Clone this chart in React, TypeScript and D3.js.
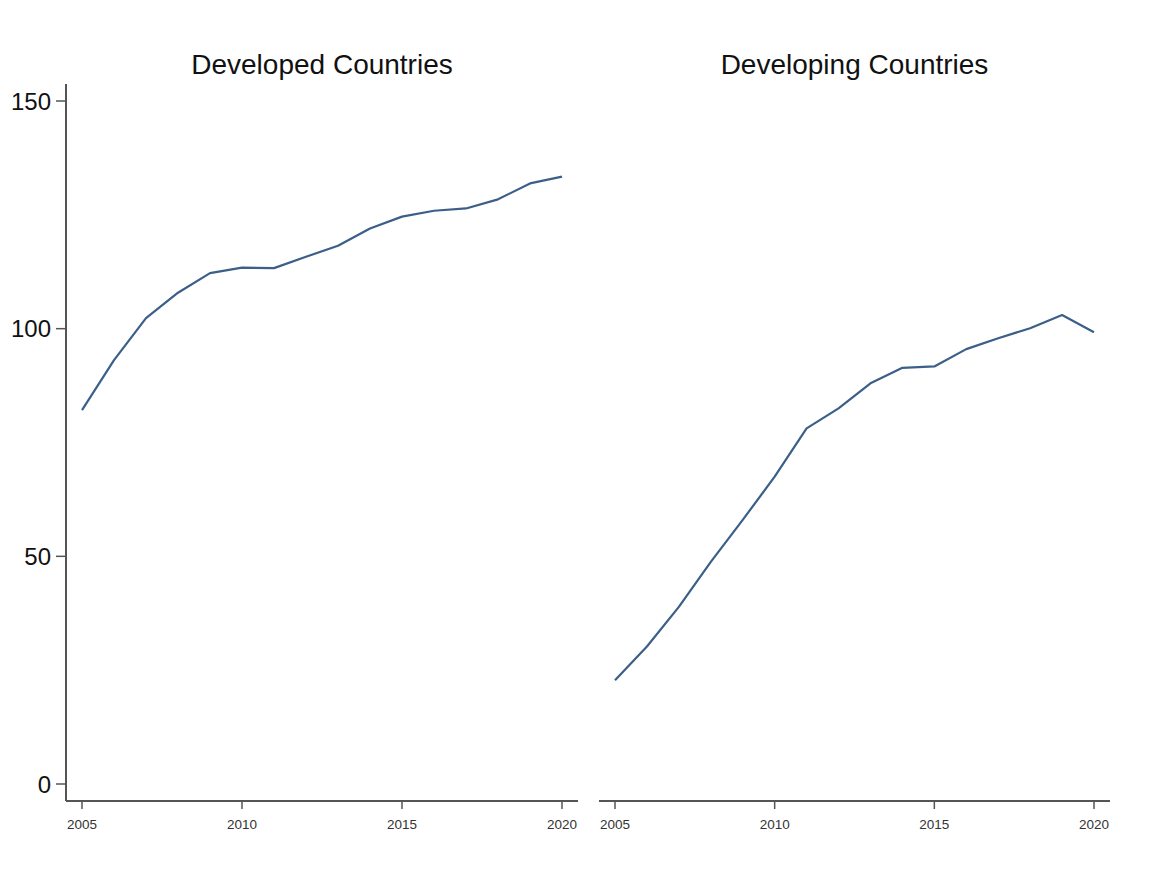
import React from "react";
import * as d3 from "d3";

const years = [2005,2006,2007,2008,2009,2010,2011,2012,2013,2014,2015,2016,2017,2018,2019,2020];
const developed = [82.1,93.1,102.3,107.9,112.2,113.4,113.3,115.8,118.2,122.0,124.6,125.9,126.4,128.4,131.9,133.4];
const developing = [22.8,30.2,38.9,48.8,58.0,67.5,78.1,82.5,88.0,91.4,91.7,95.5,97.9,100.1,103.0,99.2];
const yTicks = [0,50,100,150];
const xTicks = [2005,2010,2015,2020];
const titles = ["Developed Countries","Developing Countries"];

const W = 1150, H = 877;
const FONT = "'Liberation Sans', Arial, Helvetica, sans-serif";
const LINE = "#3b5f88";
const AXIS = "#555555";

export default function App() {
  const y = d3.scaleLinear().domain([0,150]).range([784,101]);
  const panels = [
    { x0: 66, x1: 578, data: developed, showY: true, title: titles[0] },
    { x0: 599, x1: 1110, data: developing, showY: false, title: titles[1] },
  ];
  const axisY = 801;
  return (
    <svg width={W} height={H} style={{ position: "absolute", left: 0, top: 0, background: "#fff" }}>
      {panels.map((p, i) => {
        const x = d3.scaleLinear().domain([2005,2020]).range([p.x0 + 16, p.x1 - 16]);
        const line = d3.line<number>().x((_, j) => x(years[j])).y(d => y(d));
        return (
          <g key={i}>
            <text x={(p.x0 + p.x1) / 2} y={74} textAnchor="middle" fontFamily={FONT} fontSize={28} fill="#111">{p.title}</text>
            <line x1={p.x0} x2={p.x1} y1={axisY} y2={axisY} stroke={AXIS} strokeWidth={2} />
            {xTicks.map(t => (
              <g key={t}>
                <line x1={x(t)} x2={x(t)} y1={axisY} y2={axisY + 8} stroke={AXIS} strokeWidth={1.5} />
                <text x={x(t)} y={829} textAnchor="middle" fontFamily={FONT} fontSize={13.5} fill="#333">{t}</text>
              </g>
            ))}
            {p.showY && (
              <g>
                <line x1={p.x0} x2={p.x0} y1={84} y2={axisY} stroke={AXIS} strokeWidth={2} />
                {yTicks.map(t => (
                  <g key={t}>
                    <line x1={p.x0 - 10} x2={p.x0} y1={y(t)} y2={y(t)} stroke={AXIS} strokeWidth={1.5} />
                    <text x={p.x0 - 15} y={y(t) + 8.6} textAnchor="end" fontFamily={FONT} fontSize={24} fill="#111">{t}</text>
                  </g>
                ))}
              </g>
            )}
            <path d={line(p.data) || ""} fill="none" stroke={LINE} strokeWidth={2.2} strokeLinejoin="round" />
          </g>
        );
      })}
    </svg>
  );
}
